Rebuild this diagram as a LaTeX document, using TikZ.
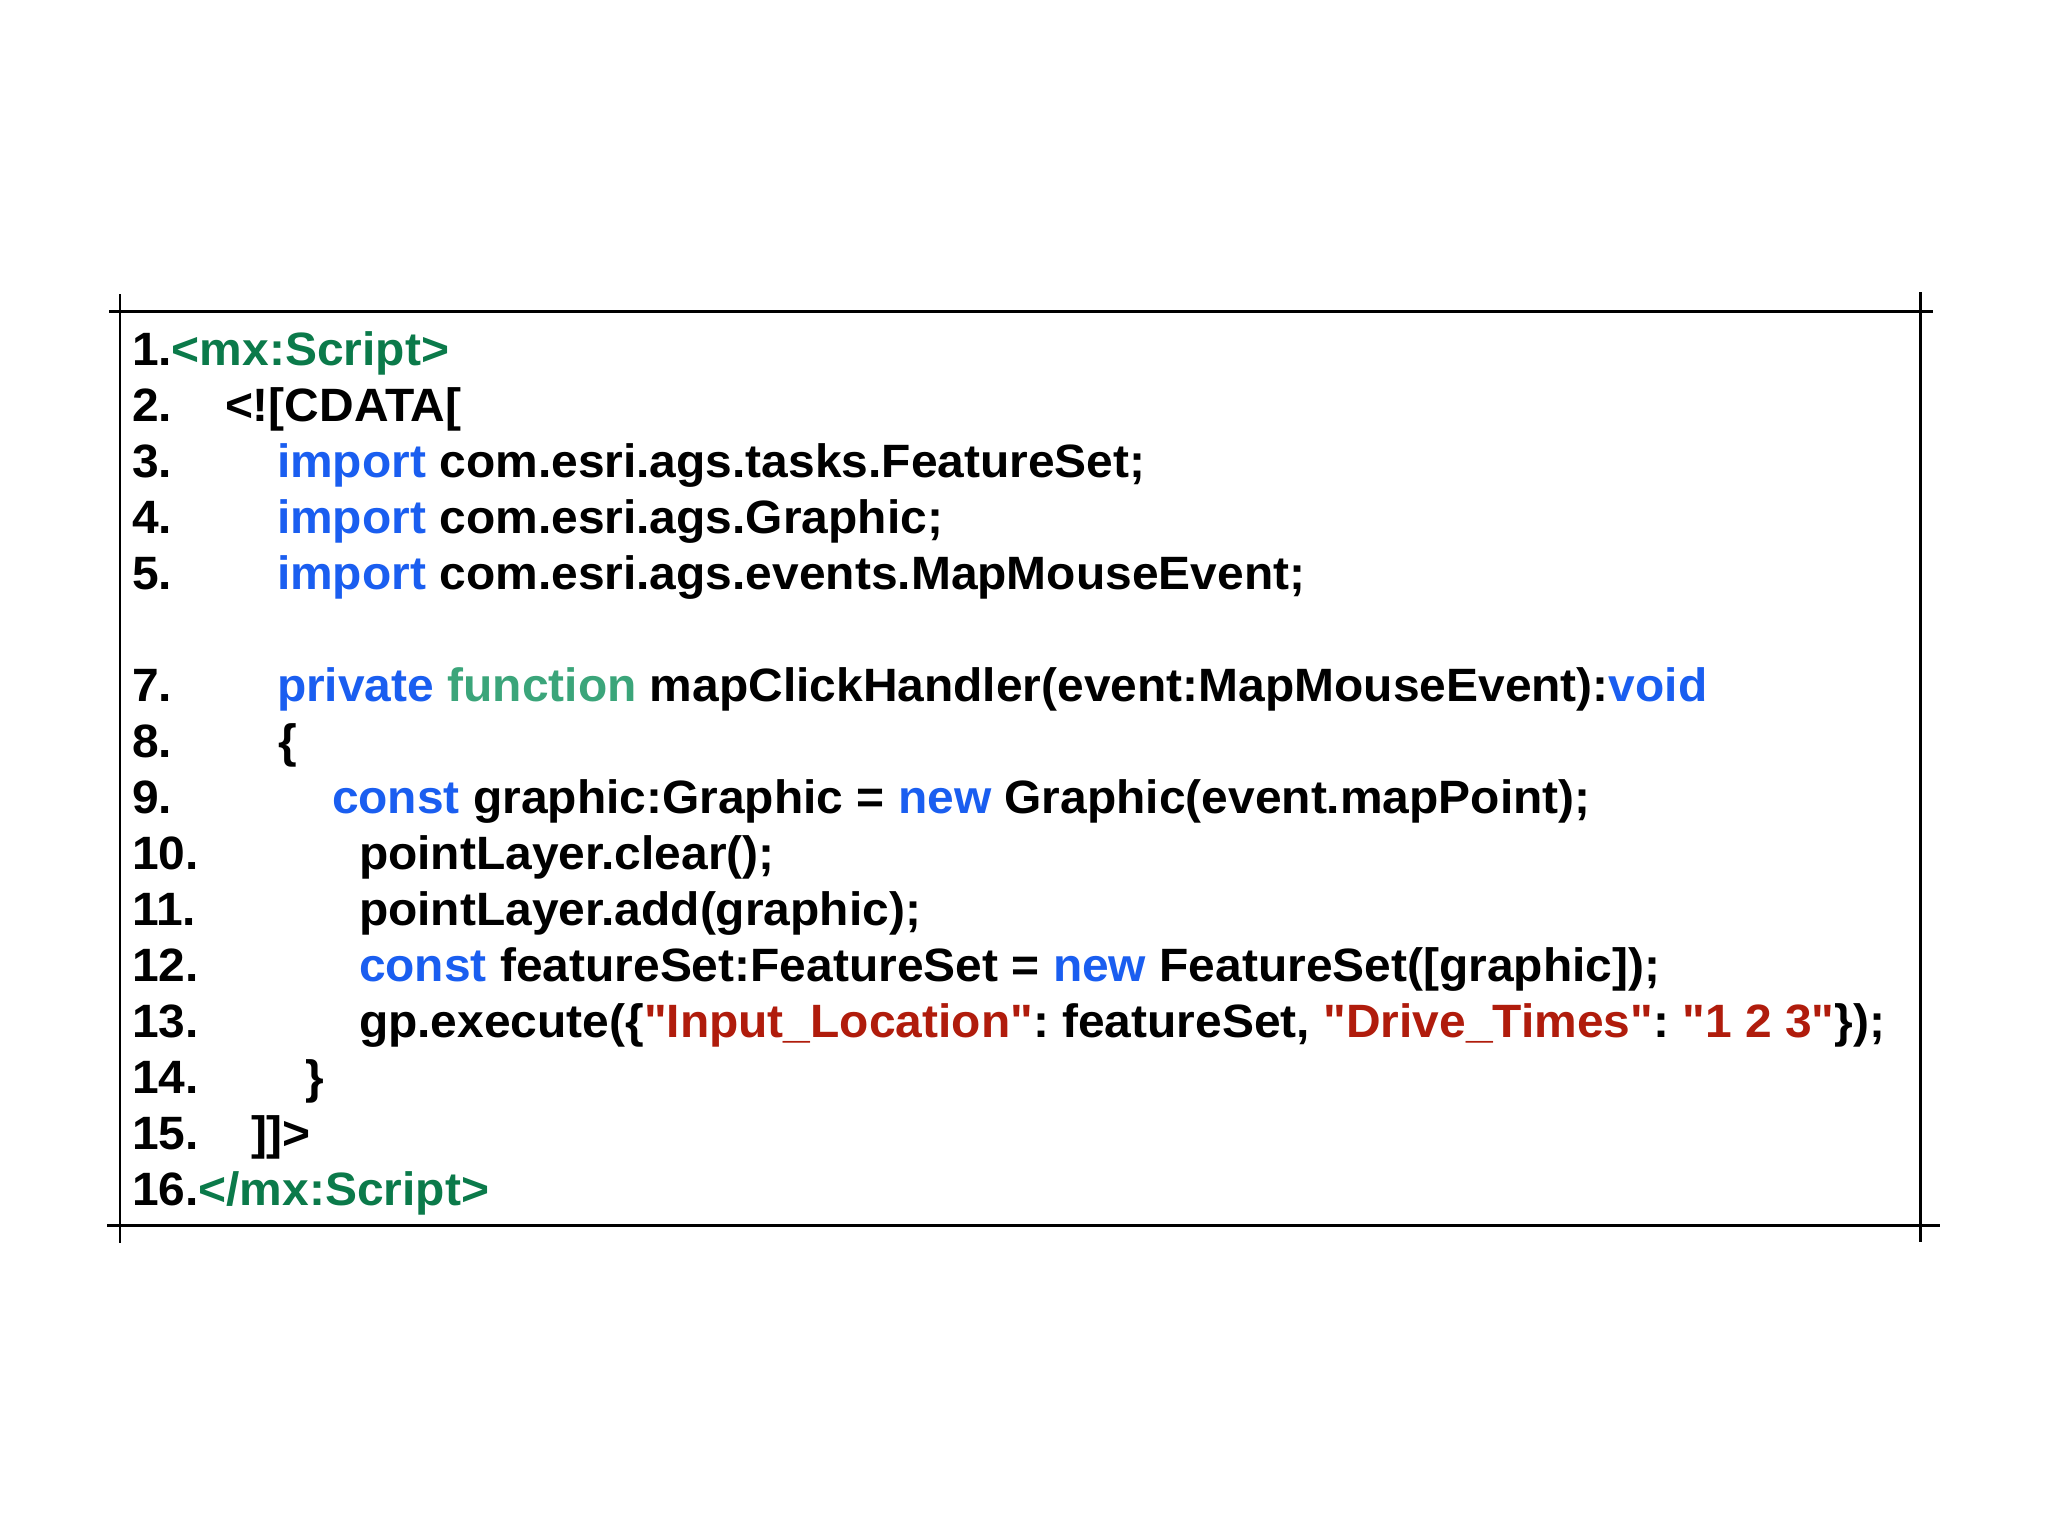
\documentclass[tikz,border=0pt]{standalone}
\usepackage{fontspec}
\setmainfont{Liberation Sans}[FakeStretch=1.025,Ligatures=TeXOff]
\usepackage{xcolor}
\usepackage{tikz}
\usetikzlibrary{positioning}

\definecolor{tagGreen}{HTML}{0B7A4A}
\definecolor{kwBlue}{HTML}{1A5EF0}
\definecolor{fnGreen}{HTML}{3BA57A}
\definecolor{strRed}{HTML}{B01C0C}

\tikzset{
  codeline/.style={inner sep=0pt,outer sep=0pt,anchor=base west,
    font=\fontsize{13.3}{15}\selectfont\bfseries\frenchspacing},
  cropline/.style={line width=0.85pt,black}
}
\newcommand{\kw}[1]{\textcolor{kwBlue}{#1}}
\newcommand{\str}[1]{\textcolor{strRed}{"#1"}}

\begin{document}
\begin{tikzpicture}[line cap=butt,x=0.01cm,y=-0.01cm]
\useasboundingbox (0,0) rectangle (2048,1536);
% frame with crop ends
\draw[cropline] (109,311) -- (1933,311);
\draw[cropline] (107,1225) -- (1940,1225);
\draw[cropline] (120,294) -- (120,1243);
\draw[cropline] (1920,292) -- (1920,1242);
% line numbers
\node[codeline] (num1) at (132,365) {1.};
\foreach \n/\y in {2/421,3/477,4/533,5/589,7/701,8/757,9/813,10/869,11/925,12/981,13/1037,14/1093,15/1149}
  \node[codeline] (num\n) at (132,\y) {\n.};
\node[codeline] (num16) at (132,1205) {16.};
% code
\node[codeline,text=tagGreen] (code1) at (num1.base east) {<mx:Script>};
\node[codeline] (code2) at (225,421) {<![CDATA[};
\node[codeline] (code3) at (277,477) {\kw{import} com.esri.ags.tasks.FeatureSet;};
\node[codeline] (code4) at (277,533) {\kw{import} com.esri.ags.Graphic;};
\node[codeline] (code5) at (277,589) {\kw{import} com.esri.ags.events.MapMouseEvent;};
\node[codeline] (code7) at (277,701) {\kw{private} \textcolor{fnGreen}{function} mapClickHandler(event:MapMouseEvent):\kw{void}};
\node[codeline] (code8) at (278,757) {\{};
\node[codeline] (code9) at (332,813) {\kw{const} graphic:Graphic = \kw{new} Graphic(event.mapPoint);};
\node[codeline] (code10) at (359,869) {pointLayer.clear();};
\node[codeline] (code11) at (359,925) {pointLayer.add(graphic);};
\node[codeline] (code12) at (359,981) {\kw{const} featureSet:FeatureSet = \kw{new} FeatureSet([graphic]);};
\node[codeline] (code13) at (359,1037) {gp.execute(\{\str{Input\_Location}: featureSet, \str{Drive\_Times}: \str{1 2 3}\});};
\node[codeline] (code14) at (305,1093) {\}};
\node[codeline] (code15) at (251,1149) {]]>};
\node[codeline,text=tagGreen] (code16) at (num16.base east) {</mx:Script>};
\end{tikzpicture}
\end{document}
